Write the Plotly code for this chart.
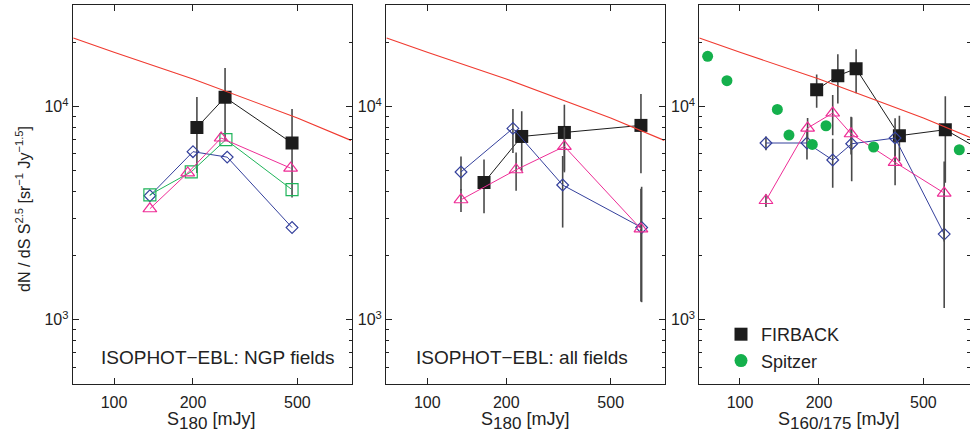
import numpy as np
import plotly.graph_objects as go

# ---------------- data ----------------
# model curve (red line), same in all panels
model_x = [70, 100, 200, 500, 800]
model_y = [21000, 18000, 13500, 8850, 6950]

# panel 1: ISOPHOT-EBL NGP fields
p1_sq_x = [207, 265, 477]
p1_sq_y = [7990, 11060, 6750]
p1_sq_err = [3100, 4150, 3000]
p1_dia_x = [137, 200, 270, 477]
p1_dia_y = [3820, 6150, 5800, 2710]
p1_tri_x = [137, 191, 256, 471]
p1_tri_y = [3320, 4890, 7130, 5150]
p1_gsq_x = [137, 197, 267, 477]
p1_gsq_y = [3860, 4950, 7000, 4080]

# panel 2: ISOPHOT-EBL all fields
p2_sq_x = [164.5, 229, 333, 652]
p2_sq_y = [4410, 7250, 7570, 8170]
p2_sq_err = [1250, 2270, 2650, 3300]
p2_dia_x = [134.4, 212, 328, 656]
p2_dia_y = [4940, 7910, 4290, 2710]
p2_dia_err = [900, 1850, 1580, 1500]
p2_tri_x = [134.4, 218, 333, 652]
p2_tri_y = [3660, 5060, 6510, 2670]
p2_tri_err = [450, 1030, 1500, 1450]

# panel 3: FIRBACK / Spitzer
p3_sq_x = [196, 236, 277, 405, 606, 900]
p3_sq_y = [12020, 13980, 15080, 7310, 7800, 5900]
p3_sq_err = [2140, 3640, 3530, 1750, 3400, 0]
p3_dia_x = [125.6, 180, 225.6, 266.5, 390, 600]
p3_dia_y = [6755, 6755, 5620, 6700, 7130, 2525]
p3_dia_err = [500, 1100, 1450, 2230, 1700, 1390]
p3_tri_x = [125.6, 181, 225.6, 265, 390, 600]
p3_tri_y = [3630, 7940, 9340, 7465, 5480, 3934]
p3_tri_err = [250, 900, 2000, 1500, 1200, 1600]
spitzer_x = [75.3, 89.2, 138.8, 153.7, 188.6, 212.7, 323, 685]
spitzer_y = [17230, 13250, 9710, 7360, 6655, 8140, 6470, 6280]

x_tickvals = [100, 200, 500]
x_ticktext = ["100", "200", "500"]
y_tickvals = [1000, 10000]
y_ticktext = ["10<sup>3</sup>", "10<sup>4</sup>"]
y_minor = [600, 700, 800, 900, 2000, 3000, 4000, 5000, 6000, 7000, 8000, 9000, 20000]

panel_labels = ["ISOPHOT\u2212EBL: NGP fields", "ISOPHOT\u2212EBL: all fields"]
SUB = "<sub><span style='font-size:17px'>{}</span></sub>"
x_titles = ["S" + SUB.format("180") + " [mJy]", "S" + SUB.format("180") + " [mJy]",
            "S" + SUB.format("160/175") + " [mJy]"]
y_title = "dN / dS S<sup>2.5</sup> [sr<sup>\u22121</sup> Jy<sup>\u22121.5</sup>]"

# ---------------- styles ----------------
BLACK = "#1c1c1c"
BLUE = "#34409c"
MAG = "#ee2d96"
GREEN = "#1fb45a"
SPITZ = "#14b04c"
RED = "#f03a30"
ERR = "#4a4a4a"
FONT = "Liberation Sans, Arial, sans-serif"
W, H = 970, 441

fig = go.Figure()


def err(e):
    if e is None:
        return None
    return dict(type="data", array=e, visible=True, color=ERR, thickness=1.6, width=0)


def add(xs, ys, color, symbol, size, axis, e=None, filled=False, lw=1.0, lines=True):
    xa, ya = axis
    fig.add_trace(go.Scatter(
        x=xs, y=ys, xaxis=xa, yaxis=ya,
        mode="lines+markers" if lines else "markers",
        line=dict(color=color, width=lw),
        marker=dict(symbol=symbol if filled else symbol + "-open", size=size, color=color,
                    line=dict(color=color, width=1.2 if not filled else 0)),
        error_y=err(e), showlegend=False, hoverinfo="skip"))


ax1, ax2, ax3 = ("x", "y"), ("x2", "y2"), ("x3", "y3")

# panel 1
add(p1_sq_x, p1_sq_y, BLACK, "square", 13, ax1, p1_sq_err, filled=True)
add(p1_dia_x, p1_dia_y, BLUE, "diamond", 9, ax1)
add(p1_gsq_x, p1_gsq_y, GREEN, "square", 12, ax1)
add(p1_tri_x, p1_tri_y, MAG, "triangle-up", 12, ax1)
# panel 2
add(p2_sq_x, p2_sq_y, BLACK, "square", 13, ax2, p2_sq_err, filled=True)
add(p2_dia_x, p2_dia_y, BLUE, "diamond", 9, ax2, p2_dia_err)
add(p2_tri_x, p2_tri_y, MAG, "triangle-up", 12, ax2, p2_tri_err)
# panel 3
add(p3_sq_x, p3_sq_y, BLACK, "square", 13, ax3, p3_sq_err, filled=True)
add(p3_dia_x, p3_dia_y, BLUE, "diamond", 9, ax3, p3_dia_err)
add(p3_tri_x, p3_tri_y, MAG, "triangle-up", 12, ax3, p3_tri_err)
add(spitzer_x, spitzer_y, SPITZ, "circle", 11, ax3, filled=True, lines=False)

# model line on top
for xa, ya in (ax1, ax2, ax3):
    fig.add_trace(go.Scatter(x=model_x, y=model_y, xaxis=xa, yaxis=ya, mode="lines",
                             line=dict(color=RED, width=1.1), showlegend=False, hoverinfo="skip"))

# legend entries
fig.add_trace(go.Scatter(x=[None], y=[None], xaxis="x3", yaxis="y3", mode="markers", name="FIRBACK",
                         marker=dict(symbol="square", size=13, color=BLACK)))
fig.add_trace(go.Scatter(x=[None], y=[None], xaxis="x3", yaxis="y3", mode="markers", name="Spitzer",
                         marker=dict(symbol="circle", size=13, color=SPITZ)))

ydom = [57 / H, 436 / H]
xdoms = [[72.7 / W, 351.7 / W], [386 / W, 665 / W], [699.3 / W, 1.0]]
xranges = [[1.8426, 2.9059], [1.8426, 2.9059], [1.845, 2.8765]]

common_x = dict(type="log", tickvals=x_tickvals, ticktext=x_ticktext, ticks="inside", ticklen=6,
                tickwidth=1, tickcolor="#222", showline=True, linecolor="#222", linewidth=1,
                mirror="ticks", showgrid=False, zeroline=False, automargin=False,
                tickfont=dict(size=16, family=FONT, color="#222"), ticklabelstandoff=4)
common_y = dict(type="log", range=[np.log10(500), np.log10(30000)], domain=ydom,
                tickvals=y_tickvals, ticktext=y_ticktext, ticks="inside", ticklen=6, tickwidth=1,
                tickcolor="#222", showline=True, linecolor="#222", linewidth=1, mirror="ticks",
                showgrid=False, zeroline=False, automargin=False,
                tickfont=dict(size=16, family=FONT, color="#222"),
                minor=dict(tickvals=y_minor, ticks="inside", ticklen=3, tickcolor="#222", showgrid=False))

layout = dict(template="none", width=W, height=H, margin=dict(l=0, r=0, t=0, b=0, autoexpand=False),
              paper_bgcolor="white", plot_bgcolor="white",
              font=dict(family=FONT, color="#222", size=16))
for i in range(3):
    sfx = "" if i == 0 else str(i + 1)
    layout["xaxis" + sfx] = dict(common_x, domain=xdoms[i], range=xranges[i],
                                 anchor="y" + sfx)
    layout["yaxis" + sfx] = dict(common_y, anchor="x" + sfx)

layout["legend"] = dict(x=721 / W, y=1 - 316 / H, xanchor="left", yanchor="top",
                        font=dict(size=18, family=FONT, color="#222"), bgcolor="rgba(0,0,0,0)",
                        itemwidth=30, tracegroupgap=0)
fig.update_layout(**layout)

ann = []
for lab, cx in zip(panel_labels, [217.5, 522]):
    ann.append(dict(text=lab, x=cx / W, y=1 - 357 / H, xref="paper", yref="paper",
                    xanchor="center", yanchor="middle",
                    showarrow=False, font=dict(size=19, family=FONT, color="#222")))
for t, cx in zip(x_titles, [211, 525, 838]):
    ann.append(dict(text=t, x=cx / W, y=1 - 421 / H, xref="paper", yref="paper",
                    xanchor="center", yanchor="middle",
                    showarrow=False, font=dict(size=18, family=FONT, color="#222")))
ann.append(dict(text=y_title, x=23 / W, y=1 - 209 / H, xref="paper", yref="paper",
                xanchor="center", yanchor="middle",
                textangle=-90, showarrow=False, font=dict(size=16, family=FONT, color="#222")))
fig.update_layout(annotations=ann)

fig.write_html("out.html", config={"displayModeBar": False},
               post_script="document.body.style.margin='0px';")
